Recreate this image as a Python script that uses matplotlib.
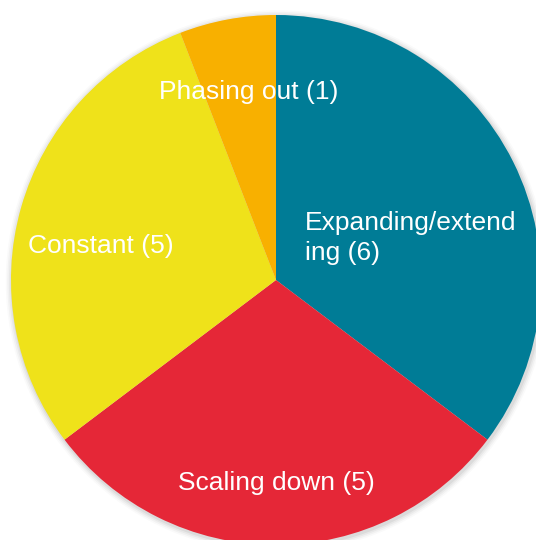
import matplotlib.pyplot as plt
from matplotlib.patches import Circle

plt.rcParams['font.family'] = ['Liberation Sans', 'DejaVu Sans']

categories = ['Expanding/extending', 'Scaling down', 'Constant', 'Phasing out']
counts = [6, 5, 5, 1]
colors = ['#007C96', '#E52737', '#EFE21A', '#F8B000']

# label placement in pixel coords (from top-left), converted below
label_text = ['Expanding/extend\ning (6)', 'Scaling down (5)', 'Constant (5)', 'Phasing out (1)']
label_px = [(305, 238), (276, 483), (28, 246), (249, 92)]
label_ha = ['left', 'center', 'left', 'center']

W, H = 536, 540
cx, cy, r = 276, 280, 265

fig = plt.figure(figsize=(W / 100, H / 100), dpi=100)
ax = fig.add_axes([0, 0, 1, 1])

# faint drop shadow
for i, a in enumerate([0.05, 0.04, 0.03, 0.02]):
    ax.add_patch(Circle((0.004, -0.006), 1 + 0.006 * (i + 1), color='black', alpha=a, lw=0, zorder=0))

ax.pie(counts, colors=colors, startangle=90, counterclock=False,
       radius=1, wedgeprops=dict(linewidth=0))

# pie() resets the limits, so set them afterwards
ax.set_xlim(-cx / r, (W - cx) / r)
ax.set_ylim(-(H - cy) / r, cy / r)
ax.set_aspect('equal')
ax.axis('off')

for t, (px, py), ha in zip(label_text, label_px, label_ha):
    ax.text((px - cx) / r, (cy - py) / r, t, color='white', fontsize=19,
            ha=ha, va='center', linespacing=1.35)

fig.savefig('out.png', dpi=100)
